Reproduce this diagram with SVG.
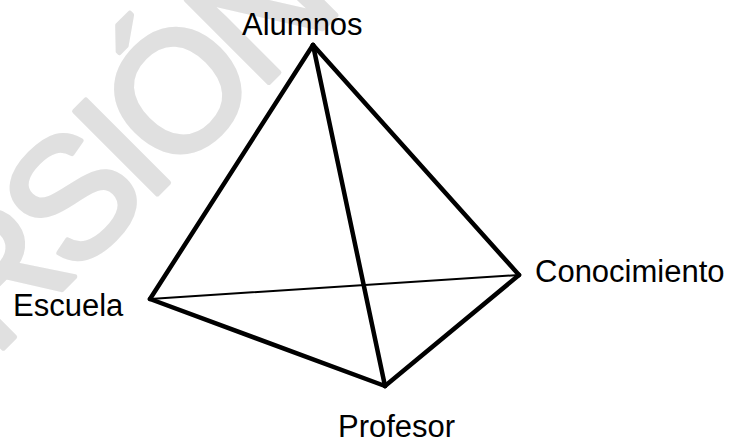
<svg xmlns="http://www.w3.org/2000/svg" width="731" height="441" viewBox="0 0 731 441">
<style>
.lbl{font-family:"Liberation Sans",Arial,sans-serif;font-size:31px;fill:#000}
.thick{stroke:#000;stroke-width:4.5;stroke-linecap:round;fill:none}
.thin{stroke:#000;stroke-width:2;stroke-linecap:round;fill:none}
.wm{font-family:"Liberation Sans",Arial,sans-serif;font-size:170px;letter-spacing:-10px;fill:#e0e0e0;stroke:#e0e0e0;stroke-width:5;stroke-linejoin:round}
</style>
<rect width="731" height="441" fill="#fff"/>
<g id="watermark">
<text class="wm" transform="translate(146.3,205.1) rotate(-45)" x="-422.9" y="0">VERSIÓN</text>
</g>
<g id="connectors">
<line class="thick" x1="313" y1="45" x2="150" y2="299"/>
<line class="thick" x1="313" y1="45" x2="385" y2="386"/>
<line class="thick" x1="313" y1="45" x2="519" y2="275"/>
<line class="thick" x1="150" y1="299" x2="385" y2="386"/>
<line class="thick" x1="385" y1="386" x2="519" y2="275"/>
<line class="thin" x1="150" y1="299" x2="519" y2="275"/>
</g>
<g id="alumnos"><text class="lbl" x="242" y="35">Alumnos</text></g>
<g id="escuela"><text class="lbl" x="13" y="316">Escuela</text></g>
<g id="profesor"><text class="lbl" x="338" y="437">Profesor</text></g>
<g id="conocimiento"><text class="lbl" x="535" y="282">Conocimiento</text></g>
</svg>
